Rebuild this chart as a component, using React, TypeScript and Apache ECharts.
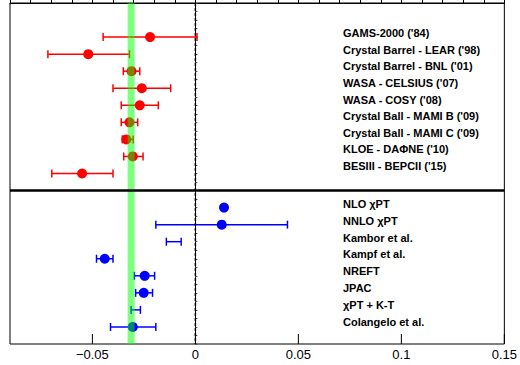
import React, { useEffect, useRef } from "react";
import * as echarts from "echarts";

const expNames = [
  "GAMS-2000 ('84)",
  "Crystal Barrel - LEAR ('98)",
  "Crystal Barrel - BNL ('01)",
  "WASA - CELSIUS ('07)",
  "WASA - COSY ('08)",
  "Crystal Ball - MAMI B ('09)",
  "Crystal Ball - MAMI C ('09)",
  "KLOE - DAΦNE ('10)",
  "BESIII - BEPCII ('15)",
];
const expValues = [-0.022, -0.052, -0.031, -0.026, -0.027, -0.032, -0.0335, -0.0304, -0.055];
const expLow = [-0.0448, -0.0716, -0.035, -0.040, -0.036, -0.036, -0.0355, -0.0348, -0.0697];
const expHigh = [0.0008, -0.032, -0.027, -0.012, -0.018, -0.028, -0.0302, -0.0254, -0.040];

const theoryNames = [
  "NLO χPT",
  "NNLO χPT",
  "Kambor et al.",
  "Kampf et al.",
  "NREFT",
  "JPAC",
  "χPT + K-T",
  "Colangelo et al.",
];
const theoryValues: (number | null)[] = [0.0139, 0.0128, null, -0.044, -0.0246, -0.0251, null, -0.0304];
const theoryLow: (number | null)[] = [null, -0.0192, -0.0141, -0.048, -0.0296, -0.029, -0.0312, -0.0412];
const theoryHigh: (number | null)[] = [null, 0.0447, -0.0069, -0.040, -0.0198, -0.0208, -0.0267, -0.0192];

const bandCenter = -0.0312;
const bandHalfWidth = 0.0017;
const majorTicks = [-0.05, 0, 0.05, 0.1, 0.15];

const X_MIN = -0.09;
const X_MAX = 0.15;
const Y_MIN = 0;
const Y_MAX = 20;
const EXP_FIRST_ROW = 2;
const SEPARATOR_ROW = 11;
const THEORY_FIRST_ROW = 12;

function fmt(v: number): string {
  const s = String(Number(v.toFixed(3)));
  return s.replace("-", "\u2212");
}

export default function App() {
  const ref = useRef<HTMLDivElement>(null);

  useEffect(() => {
    if (!ref.current) return;
    const chart = echarts.init(ref.current, undefined, { renderer: "svg" });

    const errBar = (color: string) => (params: any, api: any) => {
      const y = api.value(2);
      const lo = api.coord([api.value(0), y]);
      const hi = api.coord([api.value(1), y]);
      const h = 4;
      const style = { stroke: color, lineWidth: 1.5 };
      return {
        type: "group",
        children: [
          { type: "line", shape: { x1: lo[0], y1: lo[1], x2: hi[0], y2: hi[1] }, style },
          { type: "line", shape: { x1: lo[0], y1: lo[1] - h, x2: lo[0], y2: lo[1] + h }, style },
          { type: "line", shape: { x1: hi[0], y1: hi[1] - h, x2: hi[0], y2: hi[1] + h }, style },
        ],
      };
    };

    const expBars = expNames.map((_, i) => [expLow[i], expHigh[i], EXP_FIRST_ROW + i]);
    const expPts = expNames.map((_, i) => [expValues[i], EXP_FIRST_ROW + i]);
    const thBars: number[][] = [];
    const thPts: number[][] = [];
    theoryNames.forEach((_, i) => {
      if (theoryLow[i] !== null && theoryHigh[i] !== null)
        thBars.push([theoryLow[i] as number, theoryHigh[i] as number, THEORY_FIRST_ROW + i]);
      if (theoryValues[i] !== null) thPts.push([theoryValues[i] as number, THEORY_FIRST_ROW + i]);
    });

    const labelFont = "bold 11px 'Liberation Sans', Arial, sans-serif";
    const graphics: any[] = [];
    expNames.forEach((n, i) => {
      graphics.push({
        type: "text",
        x: 343,
        y: 33.3 + i * 16.55,
        style: { text: n, fill: "#000", font: labelFont, verticalAlign: "middle" },
        z: 100,
      });
    });
    theoryNames.forEach((n, i) => {
      graphics.push({
        type: "text",
        x: 343,
        y: 204 + i * 16.8,
        style: { text: n, fill: "#000", font: labelFont, verticalAlign: "middle" },
        z: 100,
      });
    });

    chart.setOption({
      animation: false,
      backgroundColor: "#fff",
      grid: {
        left: 10,
        right: 10,
        top: 3,
        bottom: 21,
        show: true,
        borderColor: "#000",
        borderWidth: 1,
        backgroundColor: "transparent",
      },
      xAxis: {
        type: "value",
        min: X_MIN,
        max: X_MAX,
        interval: 0.01,
        splitLine: { show: false },
        axisLine: { show: true, lineStyle: { color: "#000", width: 1 } },
        axisTick: { show: true, inside: true, length: 5, lineStyle: { color: "#000", width: 1 } },
        axisLabel: {
          show: true,
          color: "#000",
          fontSize: 13,
          fontFamily: "'Liberation Sans', Arial, sans-serif",
          margin: 4,
          showMinLabel: true,
          showMaxLabel: true,
          formatter: (v: number) => {
            const r = v / 0.05;
            return Math.abs(r - Math.round(r)) < 1e-6 ? fmt(v) : "";
          },
        },
      },
      yAxis: {
        type: "value",
        min: Y_MIN,
        max: Y_MAX,
        interval: 0.5,
        inverse: true,
        splitLine: { show: false },
        axisLine: { show: true, lineStyle: { color: "#000", width: 1 } },
        axisTick: { show: true, inside: true, length: 2, lineStyle: { color: "#555", width: 1 } },
        axisLabel: { show: false },
      },
      graphic: graphics,
      series: [
        {
          type: "custom",
          name: "majorTicks",
          data: majorTicks.map((v) => [v, Y_MAX]),
          encode: { x: 0, y: 1 },
          z: 6,
          silent: true,
          renderItem: (params: any, api: any) => {
            const p = api.coord([api.value(0), api.value(1)]);
            return {
              type: "line",
              shape: { x1: p[0], y1: p[1], x2: p[0], y2: p[1] - 10 },
              style: { stroke: "#000", lineWidth: 1 },
            };
          },
        },
        {
          type: "custom",
          name: "zeroLine",
          data: [[0, Y_MIN, Y_MAX]],
          encode: { x: 0, y: [1, 2] },
          z: 4,
          silent: true,
          renderItem: (params: any, api: any) => {
            const a = api.coord([api.value(0), api.value(1)]);
            const b = api.coord([api.value(0), api.value(2)]);
            return {
              type: "line",
              shape: { x1: a[0], y1: a[1], x2: b[0], y2: b[1] },
              style: { stroke: "#000", lineWidth: 1.5, lineDash: [3, 2] },
            };
          },
        },
        {
          type: "custom",
          name: "expErr",
          data: expBars,
          encode: { x: [0, 1], y: 2 },
          z: 2,
          renderItem: errBar("#ff0000"),
        },
        {
          type: "scatter",
          name: "exp",
          data: expPts,
          symbol: "circle",
          symbolSize: 10,
          itemStyle: { color: "#ff0000", opacity: 1 },
          z: 3,
        },
        {
          type: "custom",
          name: "thErr",
          data: thBars,
          encode: { x: [0, 1], y: 2 },
          z: 2,
          renderItem: errBar("#0000ff"),
        },
        {
          type: "scatter",
          name: "theory",
          data: thPts,
          symbol: "circle",
          symbolSize: 10,
          itemStyle: { color: "#0000ff", opacity: 1 },
          z: 3,
        },
        {
          type: "custom",
          name: "band",
          data: [[bandCenter - bandHalfWidth, bandCenter + bandHalfWidth, Y_MIN, Y_MAX]],
          encode: { x: [0, 1], y: [2, 3] },
          z: 5,
          silent: true,
          renderItem: (params: any, api: any) => {
            const a = api.coord([api.value(0), api.value(2)]);
            const b = api.coord([api.value(1), api.value(3)]);
            return {
              type: "rect",
              shape: { x: a[0], y: a[1], width: b[0] - a[0], height: b[1] - a[1] },
              style: { fill: "rgba(0,255,0,0.5)" },
            };
          },
        },
        {
          type: "custom",
          name: "separator",
          data: [[X_MIN, X_MAX, SEPARATOR_ROW]],
          encode: { x: [0, 1], y: 2 },
          z: 7,
          silent: true,
          renderItem: (params: any, api: any) => {
            const a = api.coord([api.value(0), api.value(2)]);
            const b = api.coord([api.value(1), api.value(2)]);
            return {
              type: "line",
              shape: { x1: a[0], y1: a[1], x2: b[0], y2: b[1] },
              style: { stroke: "#000", lineWidth: 2.5 },
            };
          },
        },
      ],
    });

    return () => chart.dispose();
  }, []);

  return (
    <div
      ref={ref}
      style={{ position: "fixed", left: 0, top: 0, width: 520, height: 365 }}
    />
  );
}
